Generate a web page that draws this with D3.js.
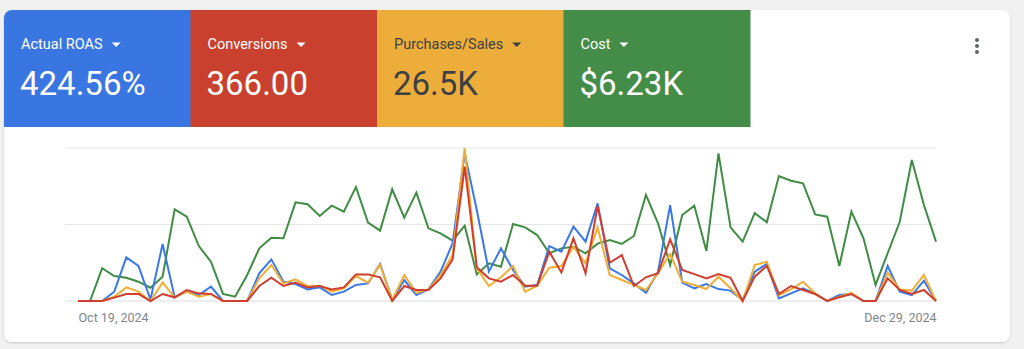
<!DOCTYPE html>
<html>
<head>
<meta charset="utf-8">
<script src="https://cdn.jsdelivr.net/npm/d3@7"></script>
<style>
  html, body { margin: 0; padding: 0; background: #f1f1f1; }
  svg { display: block; font-family: Roboto, "Noto Sans", Arial, sans-serif; }
</style>
</head>
<body>
<svg id="chart" width="1024" height="349"></svg>
<script>
// ---------- data (normalised to the chart's own scale, 0–100) ----------
const startDate = "2024-10-19";
const endDate = "2024-12-29";
const tickLabels = ["Oct 19, 2024", "Dec 29, 2024"];

const metricNames = ["Actual ROAS", "Conversions", "Purchases/Sales", "Cost"];
const metricTotals = ["424.56%", "366.00", "26.5K", "$6.23K"];

const roas = [0,0,0,6.1,28.5,22.9,1,37.3,2.4,6.1,3.9,9.4,0,0,0,18.1,27.2,12.6,11.1,7.6,8.9,3.9,6.1,10.5,11.5,24.2,0.7,13.7,3.9,7.6,19.2,37.7,96.5,59.5,19.2,34.4,20.3,9.4,10.5,35.9,32.2,48.6,38.8,63.8,21.4,17,11.5,5.4,19.2,62.7,12,8.3,11.1,7.8,6.8,0.7,19.2,24.2,1.7,5,8.3,4.6,0,3.9,4.6,0,0,22.9,6.1,3.9,13.3,0];
const conversions = [0,0,0,2.2,4.6,4.6,0,4.6,2.4,7.2,5,4.6,0,0,0,9.8,15.2,9.8,12,8.9,9.8,7.6,8.9,17.4,17.4,15.5,0,9.8,7.2,7.2,14.8,27.2,87.8,22,14.8,12.6,17,10,10,32.2,18.7,41,18.1,62.1,25,30,9.8,15.5,18.1,40.3,20.3,17.6,14.8,17.6,15.2,0,15.9,22.9,4.6,9.8,7.2,4.6,0,2.4,4.6,0,0,14.8,7.2,4.6,7.2,0];
const purchases = [0,0,0,2.8,8.9,6.1,0,12.2,2.4,6.1,2.8,4.6,0,0,0,14.8,23.5,11.5,14.2,9.8,10,6.1,8.3,16.3,12,23.5,0.7,17,5.4,7.6,17,30,100,21.4,9.8,15.5,22.9,6.1,10,21.8,22.9,35.5,24.6,48.1,17,13.7,10.5,7.2,18.1,30.7,12.6,10.5,7.8,15.9,8.3,0,23.5,25.7,3.9,7.6,12.6,5,0,2.8,5.4,0,0,18.5,7.6,6.8,17,0];
const cost = [0,0,21.4,16.3,15.2,12.6,8.7,15.9,59.9,55.1,35.9,25.7,4.6,2.8,17,34.4,41.4,41,64.5,63.2,55.6,62.3,58.4,74.5,51.3,46,73,54.5,70.8,47.5,44.2,39.4,49.2,17.4,24.6,22.4,50.3,48.1,43.1,31.2,34.4,35.5,31.2,37.5,39.9,37.3,42.5,69.3,50.8,23.5,56.2,62.3,32.7,96.5,48.1,38.8,57.5,51.4,81.7,78.6,76.9,56.6,55.1,22.9,58.4,41,10.5,31.2,51.8,92.2,62.7,38.8];
const gridValues = [0, 50, 100];

// ---------- styling ----------
const tileColors = ["#3a76e1", "#c9402f", "#edad3b", "#448d48"];
const tileText = ["#ffffff", "#ffffff", "#3c4043", "#ffffff"];
const lineColors = { roas: "#3a78e8", purchases: "#f0ae35", conversions: "#cf3e2e", cost: "#3f8c43" };

const svg = d3.select("#chart");

// card shadow
const defs = svg.append("defs");
const f = defs.append("filter").attr("id", "shadow").attr("x", "-5%").attr("y", "-5%").attr("width", "110%").attr("height", "115%");
f.append("feDropShadow").attr("dx", 0).attr("dy", 1).attr("stdDeviation", 1.2).attr("flood-color", "#000").attr("flood-opacity", 0.18);

const card = { x: 4, y: 10, w: 1006, h: 332, r: 8 };
defs.append("clipPath").attr("id", "cardClip")
  .append("rect").attr("x", card.x).attr("y", card.y).attr("width", card.w).attr("height", card.h).attr("rx", card.r);

svg.append("rect")
  .attr("x", card.x).attr("y", card.y).attr("width", card.w).attr("height", card.h).attr("rx", card.r)
  .attr("fill", "#ffffff").attr("filter", "url(#shadow)");

// ---------- metric tiles ----------
const tileW = 186.5, tileH = 117;
const tiles = svg.append("g").attr("clip-path", "url(#cardClip)");
metricNames.forEach((name, i) => {
  const x0 = card.x + i * tileW;
  const g = tiles.append("g");
  g.append("rect").attr("x", x0).attr("y", card.y).attr("width", tileW + 0.5).attr("height", tileH).attr("fill", tileColors[i]);
  const lbl = g.append("text").attr("x", x0 + 17).attr("y", 49)
    .attr("fill", tileText[i]).attr("font-size", 14.5).text(name);
  const tw = lbl.node().getComputedTextLength();
  const cx = x0 + 17 + tw + 9;
  g.append("path").attr("d", `M${cx},42.5 L${cx + 9},42.5 L${cx + 4.5},47 Z`).attr("fill", tileText[i]);
  g.append("text").attr("x", x0 + 16).attr("y", 95)
    .attr("fill", tileText[i]).attr("font-size", 33).text(metricTotals[i]);
});

// kebab menu
[40, 46, 52].forEach(cy => {
  svg.append("circle").attr("cx", 977).attr("cy", cy).attr("r", 2).attr("fill", "#5f6368");
});

// ---------- line chart ----------
const parse = d3.utcParse("%Y-%m-%d");
const d0 = parse(startDate), d1 = parse(endDate);
const dates = d3.utcDay.range(d0, d3.utcDay.offset(d1, 1));

const x = d3.scaleUtc().domain([d0, d1]).range([78, 936]);
const y = d3.scaleLinear().domain([0, 100]).range([301, 148]);

// gridlines
svg.append("g").selectAll("line").data(gridValues).join("line")
  .attr("x1", 65).attr("x2", 936)
  .attr("y1", d => y(d)).attr("y2", d => y(d))
  .attr("stroke", d => d === 0 ? "#dadce0" : "#e6e6e6").attr("stroke-width", 1);

// x axis labels
const xAxis = d3.axisBottom(x)
  .tickValues([d0, d1])
  .tickFormat((d, i) => tickLabels[i])
  .tickSize(0).tickPadding(9);
const ax = svg.append("g").attr("transform", "translate(0,311)").call(xAxis);
ax.select(".domain").remove();
ax.selectAll("text").attr("fill", "#80868b").attr("font-size", 12.5).attr("font-family", "Roboto, sans-serif")
  .attr("dy", "0.15em")
  .attr("text-anchor", (d, i) => i === 0 ? "start" : "end");

const line = d3.line().x((d, i) => x(dates[i])).y(d => y(d));
const series = [
  { key: "cost", values: cost },
  { key: "roas", values: roas },
  { key: "purchases", values: purchases },
  { key: "conversions", values: conversions }
];
svg.append("g").selectAll("path").data(series).join("path")
  .attr("d", d => line(d.values))
  .attr("fill", "none")
  .attr("stroke", d => lineColors[d.key])
  .attr("stroke-width", 2)
  .attr("stroke-linejoin", "miter")
  .attr("stroke-miterlimit", 4);
</script>
</body>
</html>
